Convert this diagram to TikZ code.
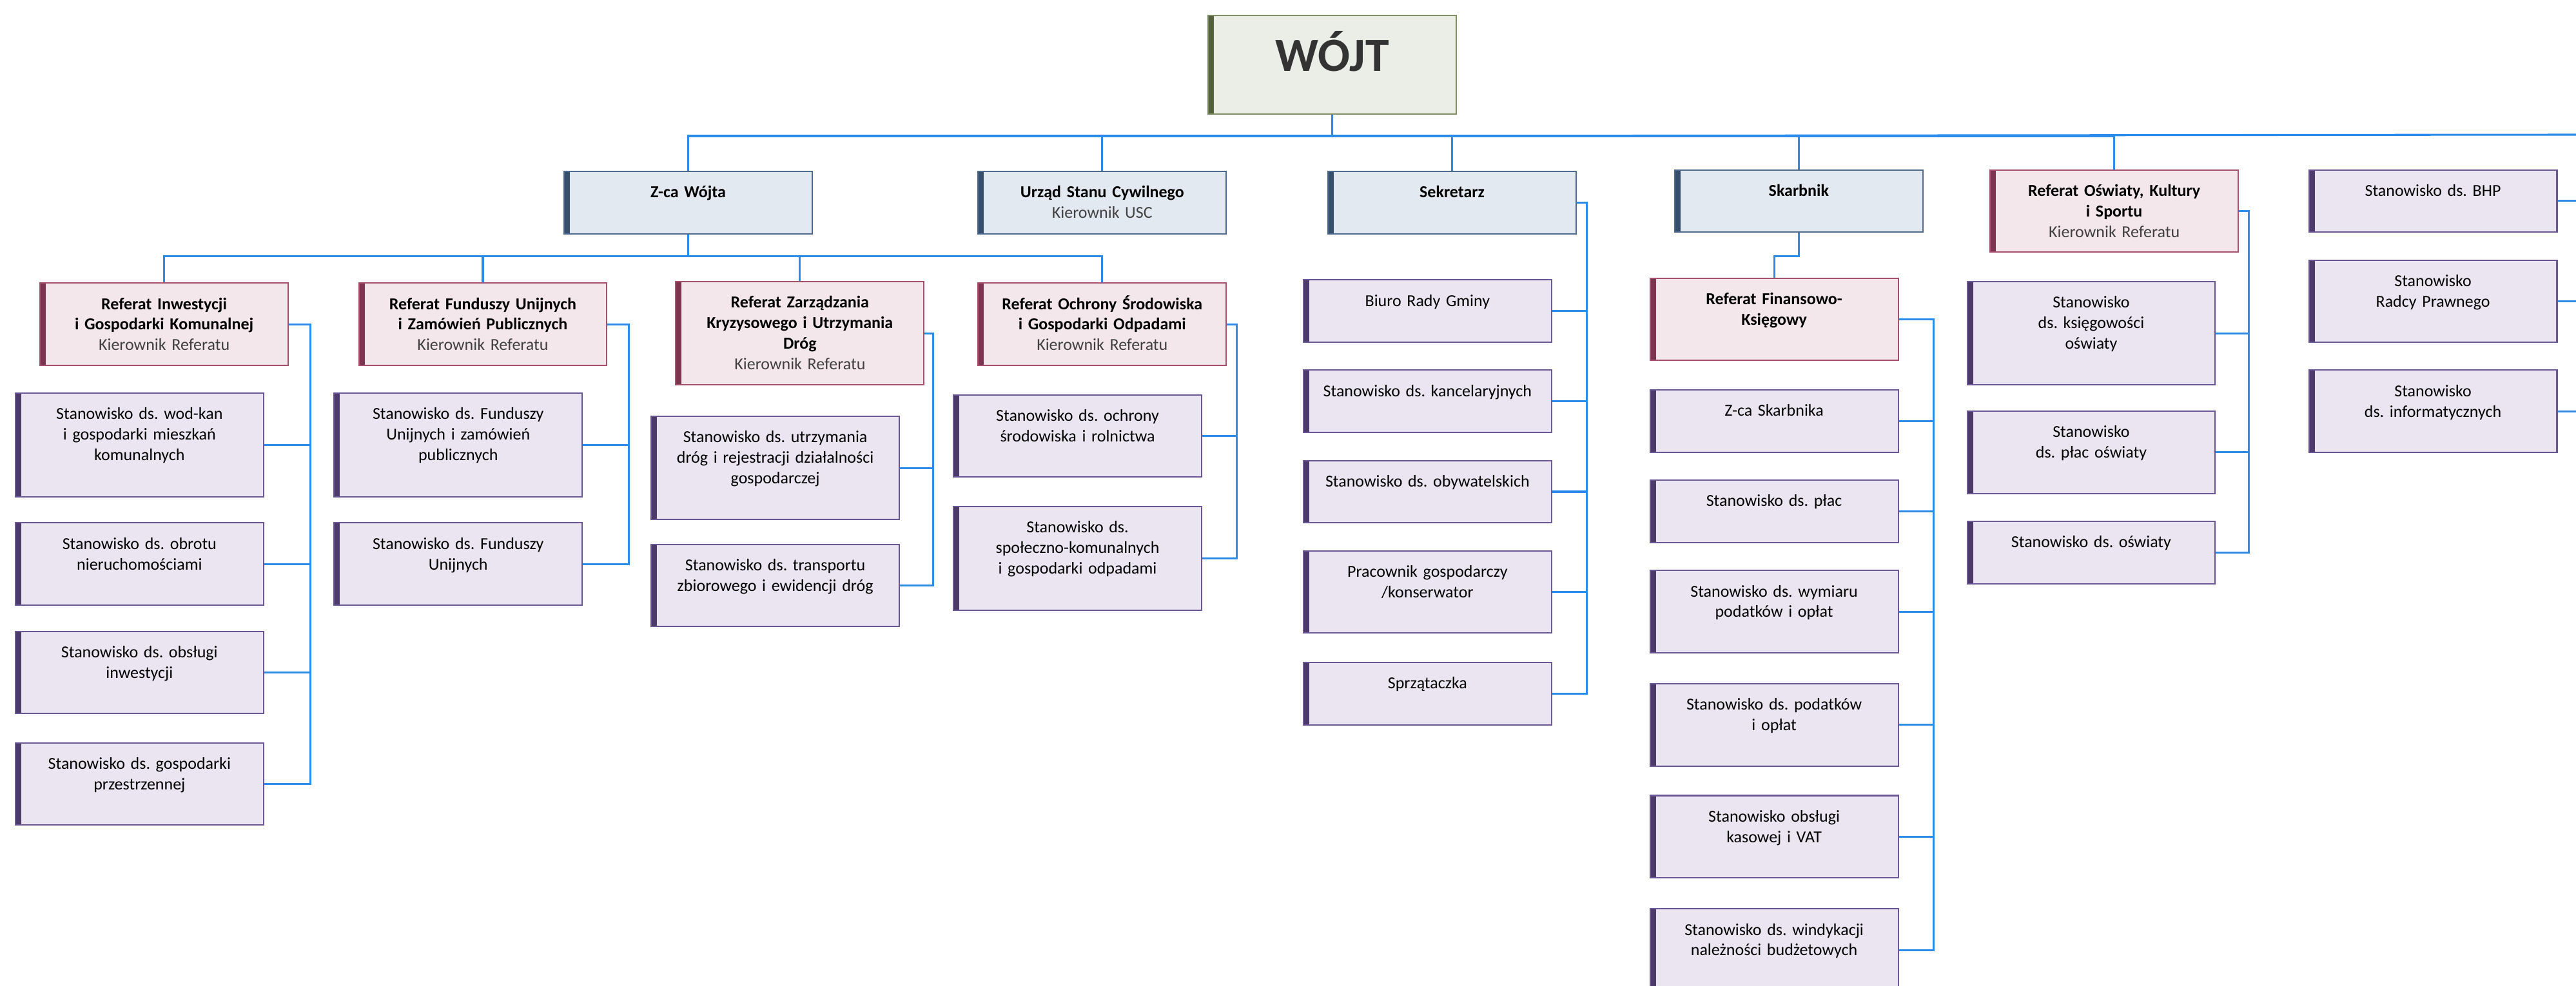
\documentclass[tikz,border=0pt]{standalone}
\usepackage{fontspec}
\setmainfont{Carlito}
\frenchspacing

\definecolor{wojtfill}{HTML}{EBEEE7}
\definecolor{wojtline}{HTML}{7F8F63}
\definecolor{wojtbar}{HTML}{56623F}
\definecolor{wojttext}{HTML}{333333}
\definecolor{chieffill}{HTML}{E3E9F1}
\definecolor{chiefline}{HTML}{4E6A8E}
\definecolor{chiefbar}{HTML}{364F6D}
\definecolor{deptfill}{HTML}{F4E7EB}
\definecolor{deptline}{HTML}{A5506C}
\definecolor{deptbar}{HTML}{7D344F}
\definecolor{postfill}{HTML}{EAE5F1}
\definecolor{postline}{HTML}{6B5793}
\definecolor{postbar}{HTML}{4B3A6A}
\definecolor{linkblue}{HTML}{2B8CEB}
\definecolor{subgray}{HTML}{404040}

\newcommand{\kier}[1]{{\mdseries\color{subgray}#1}}

\tikzset{
  orgbox/.style={draw, line width=0.8pt, anchor=north west, text width=143pt, align=center,
    inner xsep=4pt, inner ysep=3pt, text height=13pt, font=\fontsize{10.2}{12.5}\selectfont,
    path picture={\fill[#1] (path picture bounding box.north west) rectangle ([xshift=3.5pt]path picture bounding box.south west);}},
  h38/.style={text depth=19pt},
  h50/.style={text depth=31pt},
  h63/.style={text depth=44pt},
  wojtbox/.style={orgbox=wojtbar, draw=wojtline, fill=wojtfill, text=wojttext,
    text height=31pt, text depth=23pt, font=\fontsize{29}{32}\selectfont\bfseries},
  chief/.style={orgbox=chiefbar, draw=chiefline, fill=chieffill, font=\fontsize{10.2}{12.5}\selectfont\bfseries},
  dept/.style={orgbox=deptbar, draw=deptline, fill=deptfill, font=\fontsize{10.2}{12.5}\selectfont\bfseries},
  post/.style={orgbox=postbar, draw=postline, fill=postfill},
  link/.style={draw=linkblue, line width=1.2pt}
}

\begin{document}
\begin{tikzpicture}[x=1pt, y=-1pt]
    \useasboundingbox (0,0) rectangle (1568,600);

    \node[wojtbox] (wojt) at (735,9) {WÓJT};

    \node[chief, h38] (zca) at (343,104) {Z-ca Wójta};
    \node[chief, h38] (usc) at (595,104) {Urząd Stanu Cywilnego\\\kier{Kierownik USC}};
    \node[chief, h38] (sekr) at (808,104) {Sekretarz};
    \node[chief, h38] (skarb) at (1019,103) {Skarbnik};
    \node[dept, h50] (osw) at (1211,103) {Referat Oświaty, Kultury\\i Sportu\\\kier{Kierownik Referatu}};
    \node[post, h38] (bhp) at (1405,103) {Stanowisko ds. BHP};
    \node[post, h50] (radca) at (1405,158) {Stanowisko\\Radcy Prawnego};
    \node[post, h50] (inf) at (1405,225) {Stanowisko\\ds. informatycznych};

    \node[dept, h50] (rinw) at (24,172) {Referat Inwestycji\\i Gospodarki Komunalnej\\\kier{Kierownik Referatu}};
    \node[dept, h50] (rfun) at (218,172) {Referat Funduszy Unijnych\\i Zamówień Publicznych\\\kier{Kierownik Referatu}};
    \node[dept, h63] (rzar) at (411,171) {Referat Zarządzania\\Kryzysowego i Utrzymania\\Dróg\\\kier{Kierownik Referatu}};
    \node[dept, h50] (roch) at (595,172) {Referat Ochrony Środowiska\\i Gospodarki Odpadami\\\kier{Kierownik Referatu}};

    \node[post, h63] (inw1) at (9,239) {Stanowisko ds. wod-kan\\i gospodarki mieszkań\\komunalnych};
    \node[post, h50] (inw2) at (9,318) {Stanowisko ds. obrotu\\nieruchomościami};
    \node[post, h50] (inw3) at (9,384) {Stanowisko ds. obsługi\\inwestycji};
    \node[post, h50] (inw4) at (9,452) {Stanowisko ds. gospodarki\\przestrzennej};

    \node[post, h63] (fun1) at (203,239) {Stanowisko ds. Funduszy\\Unijnych i zamówień\\publicznych};
    \node[post, h50] (fun2) at (203,318) {Stanowisko ds. Funduszy\\Unijnych};

    \node[post, h63] (zar1) at (396,253) {Stanowisko ds. utrzymania\\dróg i rejestracji działalności\\gospodarczej};
    \node[post, h50] (zar2) at (396,331) {Stanowisko ds. transportu\\zbiorowego i ewidencji dróg};

    \node[post, h50] (och1) at (580,240) {Stanowisko ds. ochrony\\środowiska i rolnictwa};
    \node[post, h63] (och2) at (580,308) {Stanowisko ds.\\społeczno-komunalnych\\i gospodarki odpadami};

    \node[post, h38] (sek1) at (793,170) {Biuro Rady Gminy};
    \node[post, h38] (sek2) at (793,225) {Stanowisko ds. kancelaryjnych};
    \node[post, h38] (sek3) at (793,280) {Stanowisko ds. obywatelskich};
    \node[post, h50] (sek4) at (793,335) {Pracownik gospodarczy\\/konserwator};
    \node[post, h38] (sek5) at (793,403) {Sprzątaczka};

    \node[dept, h50] (fin) at (1004,169) {Referat Finansowo-\\Księgowy};
    \node[post, h38] (fin1) at (1004,237) {Z-ca Skarbnika};
    \node[post, h38] (fin2) at (1004,292) {Stanowisko ds. płac};
    \node[post, h50] (fin3) at (1004,347) {Stanowisko ds. wymiaru\\podatków i opłat};
    \node[post, h50] (fin4) at (1004,416) {Stanowisko ds. podatków\\i opłat};
    \node[post, h50] (fin5) at (1004,484) {Stanowisko obsługi\\kasowej i VAT};
    \node[post, h50] (fin6) at (1004,553) {Stanowisko ds. windykacji\\należności budżetowych};

    \node[post, h63] (osw1) at (1197,171) {Stanowisko\\ds. księgowości\\oświaty};
    \node[post, h50] (osw2) at (1197,250) {Stanowisko\\ds. płac oświaty};
    \node[post, h38] (osw3) at (1197,317) {Stanowisko ds. oświaty};

    \coordinate (edge) at (1568,82);

    \draw[link] (wojt.south) -- ++(0,13) -- (edge);
    \foreach \t in {zca,usc,sekr,skarb,osw}
        \draw[link] (wojt.south) -- ++(0,13) -| (\t.north);
    \foreach \t in {bhp,radca,inf}
        \draw[link] (\t.east) -- (\t.east -| edge);

    \foreach \t in {rinw,rfun,rzar,roch}
        \draw[link] (zca.south) -- ++(0,13) -| (\t.north);
    \draw[link] (skarb.south) -- ++(0,14) -| (fin.north);

    \foreach \t in {inw1,inw2,inw3,inw4}
        \draw[link] (rinw.east) -- ++(13,0) |- (\t.east);
    \foreach \t in {fun1,fun2}
        \draw[link] (rfun.east) -- ++(13,0) |- (\t.east);
    \foreach \t in {zar1,zar2}
        \draw[link] (rzar.east) -- ++(5,0) |- (\t.east);
    \foreach \t in {och1,och2}
        \draw[link] (roch.east) -- ++(6,0) |- (\t.east);
    \foreach \t in {sek1,sek2,sek3,sek4,sek5}
        \draw[link] (sekr.east) -- ++(6,0) |- (\t.east);
    \foreach \t in {fin1,fin2,fin3,fin4,fin5,fin6}
        \draw[link] (fin.east) -- ++(21,0) |- (\t.east);
    \foreach \t in {osw1,osw2,osw3}
        \draw[link] (osw.east) -- ++(6,0) |- (\t.east);
\end{tikzpicture}
\end{document}
